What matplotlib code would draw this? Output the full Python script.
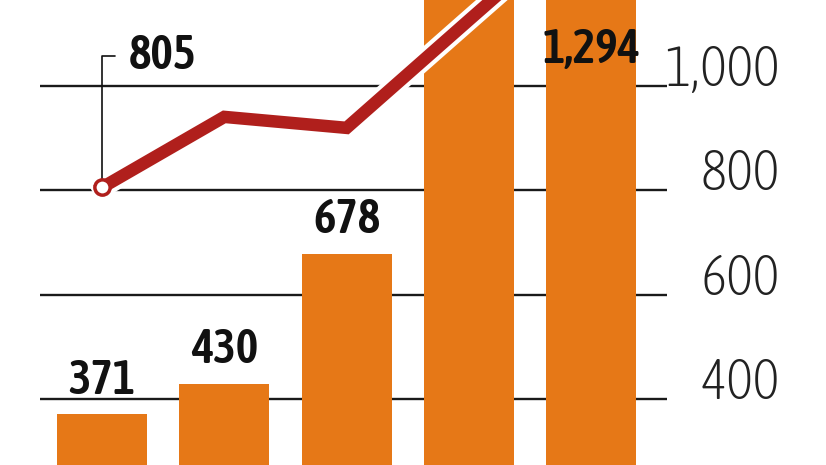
import matplotlib
matplotlib.use("Agg")
import matplotlib.pyplot as plt
import matplotlib.patheffects as pe
from matplotlib import font_manager
from matplotlib.font_manager import FontProperties
from matplotlib.textpath import TextPath
from matplotlib.transforms import blended_transform_factory

cats = ["1", "2", "3", "4", "5"]
bar_vals = [371, 430, 678, 1180, 1294]
line_vals = [805, 940, 919, 1125, 1330]
yticks = [400, 600, 800, 1000]
ytick_labels = ["400", "600", "800", "1,000"]

orange = "#e67817"
red = "#b01f1c"

# look for a narrow/condensed face, the chart uses one
def wt(w):
    if isinstance(w, str):
        return {"light": 300, "normal": 400, "regular": 400, "medium": 500,
                "semibold": 600, "bold": 700}.get(w, 400)
    return w

conds = [f for f in font_manager.fontManager.ttflist
         if "condensed" in str(f.stretch) or "Narrow" in f.name or "Condensed" in f.name
         or "narrow" in f.fname.lower() or "condensed" in f.fname.lower()]
conds = [f for f in conds if f.style == "normal"]

def ink_h(path, s):
    return TextPath((0, 0), s, size=100, prop=FontProperties(fname=path)).get_extents().height

def sized(path, s, h_px):
    return FontProperties(fname=path, size=h_px * 72 / ink_h(path, s))

tick_fp = FontProperties(family="DejaVu Sans", size=28)
lab_fp = FontProperties(family="DejaVu Sans", weight="bold", size=24)
if conds:
    base = min(conds, key=lambda f: abs(wt(f.weight) - 300))
    fam = [f for f in conds if f.name == base.name and f.stretch == base.stretch] or [base]
    thin = [f for f in fam if 200 <= wt(f.weight) <= 350] or [base]
    light = min(thin, key=lambda f: wt(f.weight))
    tick_fp = sized(light.fname, "800", 40)
    heavy = [f for f in fam if wt(f.weight) >= 500]
    if heavy:
        bold = min(heavy, key=lambda f: abs(wt(f.weight) - 600))
        lab_fp = sized(bold.fname, "430", 34)

fig = plt.figure(figsize=(8.26, 4.65), dpi=100)
ax = fig.add_axes([40/826, 0, 627/826, 1])

x = list(range(len(cats)))
ax.bar(x, bar_vals, width=0.736, color=orange, zorder=2)
ax.plot(x, line_vals, color=red, lw=9, solid_joinstyle="miter", zorder=3,
        path_effects=[pe.Stroke(linewidth=15, foreground="white"), pe.Normal()])
ax.plot(x[0], line_vals[0], "o", ms=11, mfc="white", mec=red, mew=2.5, zorder=4)

ax.set_xlim(-0.507, 4.62)
ax.set_ylim(274.4, 1163.5)

# value labels
for i in range(3):
    ax.annotate(f"{bar_vals[i]:,}", (x[i], bar_vals[i]), xytext=(0, 15),
                textcoords="offset points", ha="center", va="baseline",
                fontproperties=lab_fp, color="#111")
tr = blended_transform_factory(ax.transData, ax.transAxes)
ax.text(x[4], 0.865, f"{bar_vals[4]:,}", transform=tr, ha="center", va="baseline",
        fontproperties=lab_fp, color="#111", zorder=5)

ax.annotate(f"{line_vals[0]}", (x[0], line_vals[0]), xytext=(19, 85),
            textcoords="offset points", ha="left", va="baseline",
            fontproperties=lab_fp, color="#111",
            arrowprops=dict(arrowstyle="-", color="#111", lw=1.2, relpos=(0, 0.5),
                            connectionstyle="angle,angleA=0,angleB=90,rad=0",
                            shrinkA=8, shrinkB=6))

ax.set_yticks(yticks)
ax.set_yticklabels(ytick_labels)
ax.yaxis.tick_right()
ax.tick_params(axis="y", length=0, pad=81, labelcolor="#222")
for lab in ax.get_yticklabels():
    lab.set_ha("right")
    lab.set_va("baseline")
    lab.set_fontproperties(tick_fp)
ax.set_xticks([])
ax.yaxis.grid(True, color="#1a1a1a", lw=1.7)
ax.set_axisbelow(True)
for s in ax.spines.values():
    s.set_visible(False)

fig.savefig("out.png", dpi=100)
